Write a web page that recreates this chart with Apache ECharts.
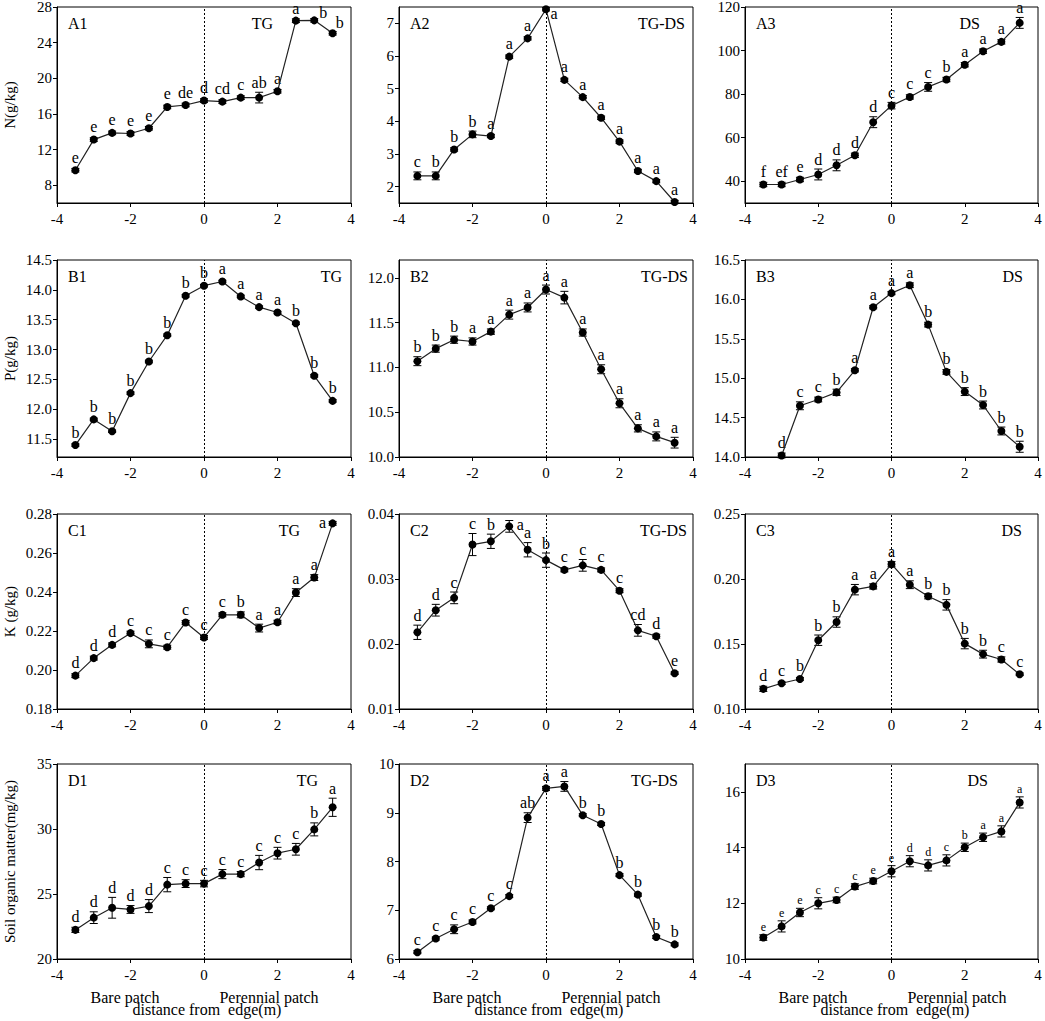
<!DOCTYPE html>
<html>
<head>
<meta charset="utf-8">
<script src="https://cdn.jsdelivr.net/npm/echarts@6/dist/echarts.min.js"></script>
<style>
  html, body { margin: 0; padding: 0; background: #fff; }
  #chart { width: 1045px; height: 1021px; }
</style>
</head>
<body>
<div id="chart"></div>
<script>
// distance from patch edge (m)
const dist = [-3.5, -3, -2.5, -2, -1.5, -1, -0.5, 0, 0.5, 1, 1.5, 2, 2.5, 3, 3.5];
const distB3 = [-3, -2.5, -2, -1.5, -1, -0.5, 0, 0.5, 1, 1.5, 2, 2.5, 3, 3.5];

// N (g/kg)
const nTG = [9.68, 13.12, 13.87, 13.8, 14.39, 16.78, 17.0, 17.5, 17.38, 17.83, 17.83, 18.54, 26.47, 26.5, 25.05];
const nTGErr = [0.2, 0.2, 0.2, 0.2, 0.2, 0.2, 0.2, 0.2, 0.2, 0.2, 0.6, 0.2, 0.2, 0.2, 0.2];
const nTGSig = ["e", "e", "e", "e", "e", "e", "de", "d", "cd", "c", "ab", "a", "a", "b", "b"];
const nTGDS = [2.33, 2.33, 3.14, 3.6, 3.55, 5.98, 6.54, 7.43, 5.27, 4.74, 4.11, 3.38, 2.48, 2.17, 1.53];
const nTGDSErr = [0.12, 0.12, 0.05, 0.1, 0.05, 0.05, 0.05, 0.05, 0.05, 0.05, 0.05, 0.05, 0.05, 0.05, 0.05];
const nTGDSSig = ["c", "b", "b", "b", "a", "a", "a", "a", "a", "a", "a", "a", "a", "a", "a"];
const nDS = [38.5, 38.5, 40.8, 43.1, 47.3, 51.9, 67.1, 74.7, 78.7, 83.3, 86.7, 93.5, 99.7, 104, 112.7];
const nDSErr = [1, 1, 1, 2.5, 2.5, 1, 2.5, 1.5, 1, 2, 1, 1, 1, 1, 2.5];
const nDSSig = ["f", "ef", "e", "d", "d", "d", "d", "c", "c", "c", "b", "a", "a", "a", "a"];

// P (g/kg)
const pTG = [11.4, 11.83, 11.63, 12.27, 12.8, 13.24, 13.9, 14.07, 14.14, 13.89, 13.71, 13.62, 13.44, 12.56, 12.14];
const pTGErr = [0.02, 0.02, 0.02, 0.02, 0.02, 0.02, 0.02, 0.02, 0.02, 0.02, 0.02, 0.02, 0.02, 0.02, 0.02];
const pTGSig = ["b", "b", "b", "b", "b", "b", "b", "b", "a", "a", "a", "a", "b", "b", "b"];
const pTGDS = [11.07, 11.21, 11.31, 11.29, 11.4, 11.59, 11.67, 11.87, 11.78, 11.39, 10.98, 10.6, 10.32, 10.23, 10.16];
const pTGDSErr = [0.05, 0.04, 0.04, 0.04, 0.03, 0.05, 0.05, 0.05, 0.07, 0.04, 0.05, 0.05, 0.04, 0.05, 0.06];
const pTGDSSig = ["b", "b", "b", "a", "a", "a", "a", "a", "a", "a", "a", "a", "a", "a", "a"];
const pDS = [14.02, 14.65, 14.73, 14.82, 15.1, 15.9, 16.08, 16.18, 15.68, 15.08, 14.83, 14.66, 14.33, 14.13];
const pDSErr = [0.03, 0.05, 0.03, 0.04, 0.02, 0.02, 0.02, 0.03, 0.03, 0.03, 0.05, 0.05, 0.05, 0.07];
const pDSSig = ["d", "c", "c", "b", "a", "a", "a", "a", "b", "b", "b", "b", "b", "b"];

// K (g/kg)
const kTG = [0.1971, 0.2061, 0.2129, 0.2189, 0.2134, 0.2117, 0.2244, 0.2167, 0.2283, 0.2283, 0.2215, 0.2245, 0.2397, 0.2474, 0.2752];
const kTGErr = [0.001, 0.001, 0.001, 0.001, 0.002, 0.001, 0.001, 0.001, 0.001, 0.0015, 0.002, 0.001, 0.002, 0.0015, 0.001];
const kTGSig = ["d", "d", "d", "c", "c", "c", "c", "c", "c", "b", "a", "a", "a", "a", "a"];
const kTGDS = [0.0218, 0.0252, 0.0271, 0.0353, 0.0358, 0.0381, 0.0345, 0.0329, 0.0314, 0.0321, 0.0314, 0.0282, 0.0221, 0.0212, 0.0155];
const kTGDSErr = [0.0011, 0.0009, 0.0009, 0.0017, 0.0011, 0.0009, 0.0011, 0.0011, 0.0003, 0.0009, 0.0003, 0.0003, 0.0009, 0.0003, 0.0002];
const kTGDSSig = ["d", "d", "c", "c", "b", "a", "a", "b", "c", "c", "c", "c", "cd", "d", "e"];
const kDS = [0.1155, 0.1198, 0.1231, 0.1529, 0.1669, 0.1918, 0.1943, 0.2114, 0.1956, 0.1867, 0.1801, 0.1503, 0.1422, 0.1381, 0.1267];
const kDSErr = [0.002, 0.001, 0.001, 0.004, 0.004, 0.004, 0.002, 0.002, 0.003, 0.002, 0.004, 0.004, 0.003, 0.002, 0.001];
const kDSSig = ["d", "c", "b", "b", "b", "a", "a", "a", "a", "b", "b", "b", "b", "c", "c"];

// Soil organic matter (mg/kg)
const somTG = [22.24, 23.18, 23.94, 23.81, 24.07, 25.72, 25.8, 25.8, 26.53, 26.53, 27.42, 28.14, 28.44, 29.97, 31.67];
const somTGErr = [0.2, 0.45, 0.8, 0.3, 0.5, 0.55, 0.3, 0.25, 0.35, 0.2, 0.55, 0.45, 0.45, 0.5, 0.7];
const somTGSig = ["d", "d", "d", "d", "d", "c", "c", "c", "c", "c", "c", "c", "c", "b", "a"];
const somTGDS = [6.14, 6.42, 6.61, 6.76, 7.04, 7.29, 8.9, 9.5, 9.54, 8.95, 8.77, 7.72, 7.32, 6.45, 6.3];
const somTGDSErr = [0.03, 0.03, 0.09, 0.04, 0.03, 0.03, 0.1, 0.04, 0.1, 0.03, 0.03, 0.03, 0.03, 0.03, 0.03];
const somTGDSSig = ["c", "c", "c", "c", "c", "c", "ab", "a", "a", "b", "b", "b", "b", "b", "b"];
const somDS = [10.77, 11.17, 11.67, 12.0, 12.12, 12.6, 12.8, 13.15, 13.51, 13.36, 13.54, 14.01, 14.37, 14.58, 15.62];
const somDSErr = [0.1, 0.2, 0.15, 0.2, 0.1, 0.1, 0.1, 0.2, 0.2, 0.2, 0.2, 0.15, 0.15, 0.2, 0.2];
const somDSSig = ["e", "e", "e", "c", "c", "c", "e", "e", "d", "d", "c", "b", "a", "a", "a"];

// y axis tick values
const ticksA1 = [8, 12, 16, 20, 24, 28];
const ticksA2 = [2, 3, 4, 5, 6, 7];
const ticksA3 = [40, 60, 80, 100, 120];
const ticksB1 = [11.5, 12.0, 12.5, 13.0, 13.5, 14.0, 14.5];
const ticksB2 = [10.0, 10.5, 11.0, 11.5, 12.0];
const ticksB3 = [14.0, 14.5, 15.0, 15.5, 16.0, 16.5];
const ticksC1 = [0.18, 0.2, 0.22, 0.24, 0.26, 0.28];
const ticksC2 = [0.01, 0.02, 0.03, 0.04];
const ticksC3 = [0.1, 0.15, 0.2, 0.25];
const ticksD1 = [20, 25, 30, 35];
const ticksD2 = [6, 7, 8, 9, 10];
const ticksD3 = [10, 12, 14, 16];

const panels = [
  { id: "A1", tag: "TG", x: dist, y: nTG, err: nTGErr, sig: nTGSig, min: 6, max: 28, ticks: ticksA1, dec: 0, name: "N(g/kg)" },
  { id: "A2", tag: "TG-DS", x: dist, y: nTGDS, err: nTGDSErr, sig: nTGDSSig, min: 1.5, max: 7.5, ticks: ticksA2, dec: 0 },
  { id: "A3", tag: "DS", x: dist, y: nDS, err: nDSErr, sig: nDSSig, min: 30, max: 120, ticks: ticksA3, dec: 0 },
  { id: "B1", tag: "TG", x: dist, y: pTG, err: pTGErr, sig: pTGSig, min: 11.2, max: 14.5, ticks: ticksB1, dec: 1, name: "P(g/kg)" },
  { id: "B2", tag: "TG-DS", x: dist, y: pTGDS, err: pTGDSErr, sig: pTGDSSig, min: 10, max: 12.2, ticks: ticksB2, dec: 1 },
  { id: "B3", tag: "DS", x: distB3, y: pDS, err: pDSErr, sig: pDSSig, min: 14, max: 16.5, ticks: ticksB3, dec: 1 },
  { id: "C1", tag: "TG", x: dist, y: kTG, err: kTGErr, sig: kTGSig, min: 0.18, max: 0.28, ticks: ticksC1, dec: 2, name: "K (g/kg)" },
  { id: "C2", tag: "TG-DS", x: dist, y: kTGDS, err: kTGDSErr, sig: kTGDSSig, min: 0.01, max: 0.04, ticks: ticksC2, dec: 2 },
  { id: "C3", tag: "DS", x: dist, y: kDS, err: kDSErr, sig: kDSSig, min: 0.1, max: 0.25, ticks: ticksC3, dec: 2 },
  { id: "D1", tag: "TG", x: dist, y: somTG, err: somTGErr, sig: somTGSig, min: 20, max: 35, ticks: ticksD1, dec: 0, name: "Soil organic matter(mg/kg)" },
  { id: "D2", tag: "TG-DS", x: dist, y: somTGDS, err: somTGDSErr, sig: somTGDSSig, min: 6, max: 10, ticks: ticksD2, dec: 0 },
  { id: "D3", tag: "DS", x: dist, y: somDS, err: somDSErr, sig: somDSSig, min: 10, max: 17, ticks: ticksD3, dec: 0 },
];

// layout (px)
const colLeft = [57, 399, 745];
const colWidth = [294, 294, 293];
const rowTop = [7, 260, 514, 764];
const rowHeight = [196, 197, 195, 195];
// how far the right-hand tag sits from the right frame
const tagRight = [78, 8, 58, 9, 5, 15, 51, 6, 16, 33, 15, 50];
// letters not placed straight above the point: offset of the letter centre
const sigPlace = {
  A1: { 12: [0, -12], 13: [9, -8], 14: [7, -11] },
  A2: { 7: [8, 4] },
  C1: { 14: [-10, -1] },
  C2: { 5: [11, -2] },
};

const FONT = "'Liberation Serif', 'DejaVu Serif', serif";

var chart = echarts.init(document.getElementById("chart"), null, { renderer: "svg" });

var grids = [], xAxes = [], yAxes = [], series = [], graphics = [];

panels.forEach(function (p, i) {
  const r = Math.floor(i / 3), c = i % 3;
  const left = colLeft[c], top = rowTop[r], w = colWidth[c], h = rowHeight[r];
  const small = p.id === "D3";

  grids.push({
    left: left, top: top, width: w, height: h,
    show: true, borderColor: "#000", borderWidth: 1, backgroundColor: "transparent",
    containLabel: false, outerBoundsMode: "none",
  });

  xAxes.push({
    gridIndex: i, type: "value", min: -4, max: 4, interval: 2,
    axisLine: { show: true, onZero: false, lineStyle: { color: "#000", width: 1 } },
    axisTick: { show: true, length: 4, lineStyle: { color: "#000" } },
    axisLabel: { color: "#000", fontFamily: FONT, fontSize: 15, margin: 8 },
    splitLine: { show: false },
  });

  yAxes.push({
    gridIndex: i, type: "value", min: p.min, max: p.max,
    name: p.name || "", nameLocation: "middle", nameGap: 40,
    nameTextStyle: { color: "#000", fontFamily: FONT, fontSize: 15 },
    axisLine: { show: true, onZero: false, lineStyle: { color: "#000", width: 1 } },
    axisTick: { show: true, length: 4, customValues: p.ticks, lineStyle: { color: "#000" } },
    axisLabel: {
      color: "#000", fontFamily: FONT, fontSize: 15, margin: 5,
      customValues: p.ticks,
      formatter: function (v) { return Number(v).toFixed(p.dec); },
    },
    splitLine: { show: false },
  });

  const pts = p.x.map(function (x, k) { return [x, p.y[k]]; });
  const errPts = p.x.map(function (x, k) { return [x, p.y[k], p.err[k]]; });
  const place = sigPlace[p.id] || {};

  // error bars + significance letters
  series.push({
    type: "custom", xAxisIndex: i, yAxisIndex: i, z: 1, silent: true,
    data: errPts,
    renderItem: function (params, api) {
      const x = api.value(0), y = api.value(1), e = api.value(2);
      const pt = api.coord([x, y]);
      const hi = api.coord([x, y + e]);
      const lo = api.coord([x, y - e]);
      const cap = 4;
      const ls = { stroke: "#000", lineWidth: 1 };
      const letter = p.sig[params.dataIndex];
      const off = place[params.dataIndex];
      let tx = pt[0], ty = Math.min(pt[1] - 5, hi[1] - 2), va = "bottom";
      if (off) { tx = pt[0] + off[0]; ty = pt[1] + off[1]; va = "middle"; }
      return {
        type: "group",
        children: [
          { type: "line", shape: { x1: pt[0], y1: hi[1], x2: pt[0], y2: lo[1] }, style: ls },
          { type: "line", shape: { x1: pt[0] - cap, y1: hi[1], x2: pt[0] + cap, y2: hi[1] }, style: ls },
          { type: "line", shape: { x1: pt[0] - cap, y1: lo[1], x2: pt[0] + cap, y2: lo[1] }, style: ls },
          {
            type: "text",
            style: {
              text: letter, x: tx, y: ty, fill: "#000",
              font: (small ? 12 : 16) + "px " + FONT,
              textAlign: "center", textVerticalAlign: va, align: "center", verticalAlign: va,
            },
          },
        ],
      };
    },
  });

  series.push({
    type: "line", xAxisIndex: i, yAxisIndex: i, z: 3,
    data: pts,
    symbol: "circle", symbolSize: 8,
    itemStyle: { color: "#000" },
    lineStyle: { color: "#222", width: 1.2 },
    markLine: {
      silent: true, symbol: ["none", "none"],
      label: { show: false },
      lineStyle: { color: "#000", type: [2, 2], width: 1 },
      data: [{ xAxis: 0 }],
    },
  });

  // panel id and site tag
  graphics.push({
    type: "text", left: left + 11, top: top + 8,
    style: { text: p.id, font: "16px " + FONT, fill: "#000" },
  });
  graphics.push({
    type: "text", right: 1045 - (left + w - tagRight[i]), top: top + 8,
    style: { text: p.tag, font: "16px " + FONT, fill: "#000" },
  });

  // bottom captions
  if (r === 3) {
    const capY = top + h + 38;
    const cap = { font: "16px " + FONT, fill: "#000", textAlign: "center", textVerticalAlign: "middle", align: "center", verticalAlign: "middle" };
    graphics.push({ type: "text", x: left + 68, y: capY, style: Object.assign({ text: "Bare patch" }, cap) });
    graphics.push({ type: "text", x: left + 212, y: capY, style: Object.assign({ text: "Perennial patch" }, cap) });
    graphics.push({ type: "text", x: left + 150, y: capY + 12, style: Object.assign({ text: "distance from  edge(m)" }, cap) });
  }
});

var option = {
  animation: false,
  backgroundColor: "#fff",
  grid: grids,
  xAxis: xAxes,
  yAxis: yAxes,
  series: series,
  graphic: graphics,
};

chart.setOption(option);

window.addEventListener("resize", function () {
  chart.resize();
});
</script>
</body>
</html>
